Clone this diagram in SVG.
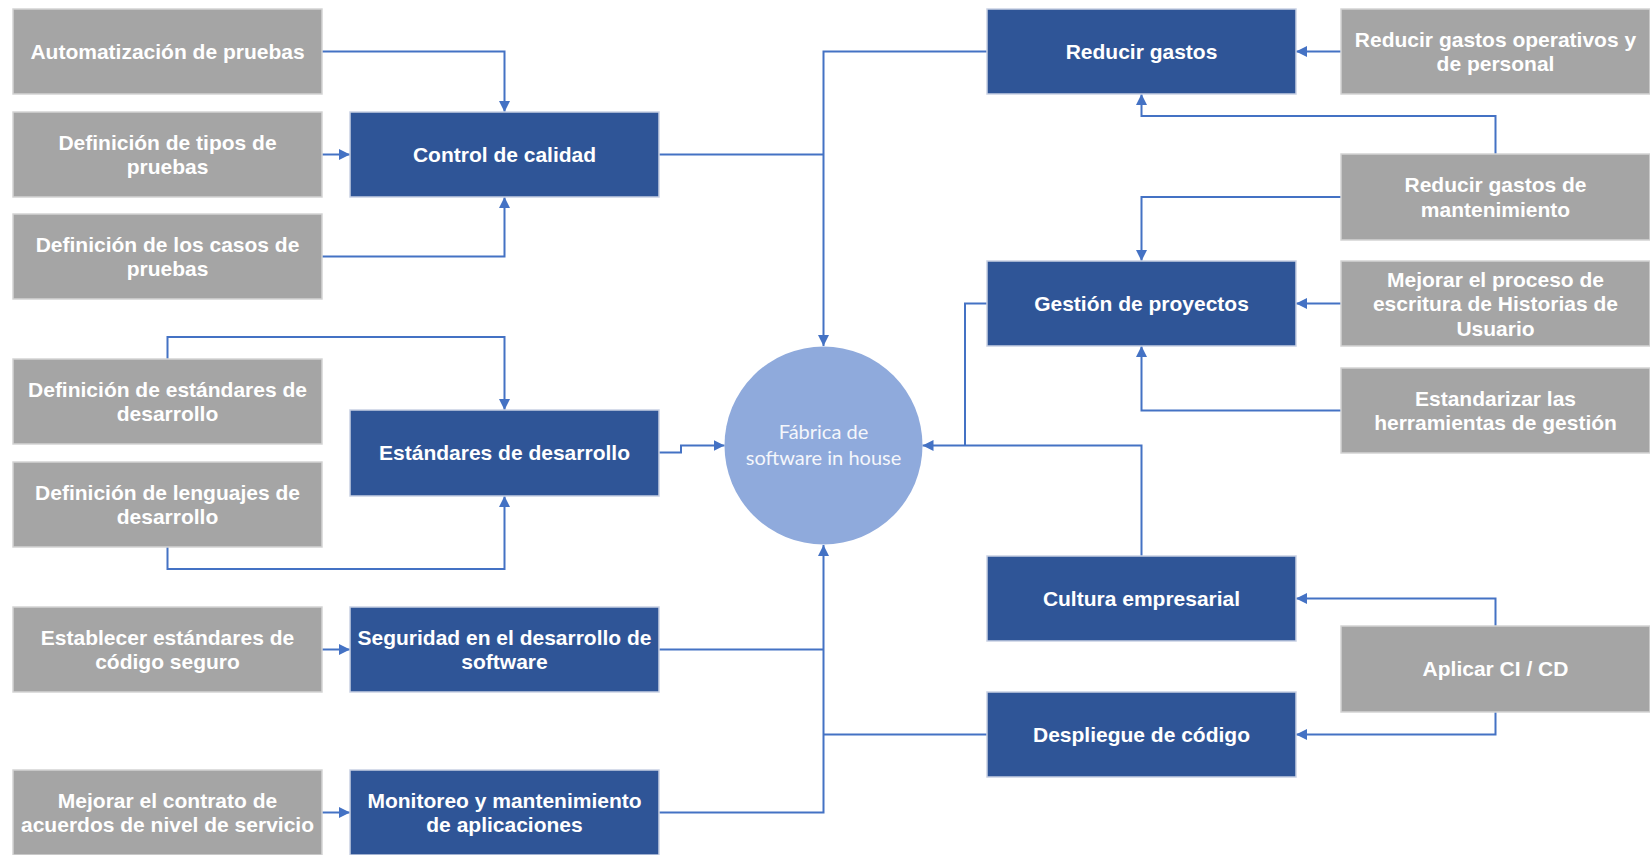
<svg xmlns="http://www.w3.org/2000/svg" width="1650" height="855" viewBox="0 0 1650 855">
  <style>
    .gray { fill: #A5A5A5; stroke: #D4D4D4; stroke-width: 1.5; }
    .dark { fill: #2F5597; stroke: #C9D1E3; stroke-width: 1.5; }
    .hub { fill: #8FAADC; }
    .lbl { font-family: "Liberation Sans", Arial, sans-serif; font-weight: bold; font-size: 21px; fill: #FFFFFF; text-anchor: middle; }
    .hubtxt { font-family: Lato, "Liberation Sans", sans-serif; font-size: 20px; fill: #F4F6FB; text-anchor: middle; }
    .conn { fill: none; stroke: #4472C4; stroke-width: 2; }
  </style>
  <defs>
    <marker id="arrow" viewBox="0 0 11 11" refX="11" refY="5.5" markerWidth="11" markerHeight="11" markerUnits="userSpaceOnUse" orient="auto">
      <path d="M0,0 L11,5.5 L0,11 Z" fill="#4472C4"/>
    </marker>
  </defs>

  <rect width="1650" height="855" fill="#FFFFFF"/>

  <!-- connectors -->
  <g id="connectors">
    <path class="conn" d="M322,51.5 H504.5 V112" marker-end="url(#arrow)"/>
    <path class="conn" d="M322,154.5 H350" marker-end="url(#arrow)"/>
    <path class="conn" d="M322,256.5 H504.5 V197" marker-end="url(#arrow)"/>
    <path class="conn" d="M659,154.5 H823.5"/>
    <path class="conn" d="M987,51.5 H823.5 V346" marker-end="url(#arrow)"/>
    <path class="conn" d="M167.5,359 V337 H504.5 V410" marker-end="url(#arrow)"/>
    <path class="conn" d="M167.5,547 V569 H504.5 V496" marker-end="url(#arrow)"/>
    <path class="conn" d="M659,452.5 H681 V445.5 H724.5" marker-end="url(#arrow)"/>
    <path class="conn" d="M322,649.5 H350" marker-end="url(#arrow)"/>
    <path class="conn" d="M659,649.5 H823.5"/>
    <path class="conn" d="M322,812.5 H350" marker-end="url(#arrow)"/>
    <path class="conn" d="M659,812.5 H823.5 V545" marker-end="url(#arrow)"/>
    <path class="conn" d="M987,734.5 H823.5"/>
    <path class="conn" d="M1341,51.5 H1296" marker-end="url(#arrow)"/>
    <path class="conn" d="M1495.5,154 V116 H1141.5 V94" marker-end="url(#arrow)"/>
    <path class="conn" d="M1341,197 H1141.5 V261" marker-end="url(#arrow)"/>
    <path class="conn" d="M1341,303.5 H1296" marker-end="url(#arrow)"/>
    <path class="conn" d="M1341,410.5 H1141.5 V346" marker-end="url(#arrow)"/>
    <path class="conn" d="M987,303.5 H965 V445.5"/>
    <path class="conn" d="M1141.5,556 V445.5 H922.5" marker-end="url(#arrow)"/>
    <path class="conn" d="M1495.5,626 V598.5 H1296" marker-end="url(#arrow)"/>
    <path class="conn" d="M1495.5,712 V734.5 H1296" marker-end="url(#arrow)"/>
  </g>

  <!-- left column: inputs -->
  <g id="automatizacion">
    <rect class="gray" x="13" y="9" width="309" height="85"/>
    <text class="lbl" x="167.5" y="58.5">Automatización de pruebas</text>
  </g>
  <g id="tipos-pruebas">
    <rect class="gray" x="13" y="112" width="309" height="85"/>
    <text class="lbl" x="167.5" y="149.5">Definición de tipos de</text>
    <text class="lbl" x="167.5" y="174">pruebas</text>
  </g>
  <g id="casos-pruebas">
    <rect class="gray" x="13" y="214" width="309" height="85"/>
    <text class="lbl" x="167.5" y="251.5">Definición de los casos de</text>
    <text class="lbl" x="167.5" y="276">pruebas</text>
  </g>
  <g id="def-estandares">
    <rect class="gray" x="13" y="359" width="309" height="85"/>
    <text class="lbl" x="167.5" y="396.5">Definición de estándares de</text>
    <text class="lbl" x="167.5" y="421">desarrollo</text>
  </g>
  <g id="def-lenguajes">
    <rect class="gray" x="13" y="462" width="309" height="85"/>
    <text class="lbl" x="167.5" y="499.5">Definición de lenguajes de</text>
    <text class="lbl" x="167.5" y="524">desarrollo</text>
  </g>
  <g id="codigo-seguro">
    <rect class="gray" x="13" y="607" width="309" height="85"/>
    <text class="lbl" x="167.5" y="644.5">Establecer estándares de</text>
    <text class="lbl" x="167.5" y="669">código seguro</text>
  </g>
  <g id="contrato-sla">
    <rect class="gray" x="13" y="770" width="309" height="85"/>
    <text class="lbl" x="167.5" y="807.5">Mejorar el contrato de</text>
    <text class="lbl" x="167.5" y="832">acuerdos de nivel de servicio</text>
  </g>

  <!-- left column: areas -->
  <g id="control-calidad">
    <rect class="dark" x="350" y="112" width="309" height="85"/>
    <text class="lbl" x="504.5" y="161.5">Control de calidad</text>
  </g>
  <g id="estandares-desarrollo">
    <rect class="dark" x="350" y="410" width="309" height="86"/>
    <text class="lbl" x="504.5" y="460">Estándares de desarrollo</text>
  </g>
  <g id="seguridad">
    <rect class="dark" x="350" y="607" width="309" height="85"/>
    <text class="lbl" x="504.5" y="644.5">Seguridad en el desarrollo de</text>
    <text class="lbl" x="504.5" y="669">software</text>
  </g>
  <g id="monitoreo">
    <rect class="dark" x="350" y="770" width="309" height="85"/>
    <text class="lbl" x="504.5" y="807.5">Monitoreo y mantenimiento</text>
    <text class="lbl" x="504.5" y="832">de aplicaciones</text>
  </g>

  <!-- hub -->
  <g id="fabrica">
    <circle class="hub" cx="823.5" cy="445.5" r="99"/>
    <text class="hubtxt" x="823.5" y="439">Fábrica de</text>
    <text class="hubtxt" x="823.5" y="465">software in house</text>
  </g>

  <!-- right column: areas -->
  <g id="reducir-gastos">
    <rect class="dark" x="987" y="9" width="309" height="85"/>
    <text class="lbl" x="1141.5" y="58.5">Reducir gastos</text>
  </g>
  <g id="gestion-proyectos">
    <rect class="dark" x="987" y="261" width="309" height="85"/>
    <text class="lbl" x="1141.5" y="310.5">Gestión de proyectos</text>
  </g>
  <g id="cultura">
    <rect class="dark" x="987" y="556" width="309" height="85"/>
    <text class="lbl" x="1141.5" y="605.5">Cultura empresarial</text>
  </g>
  <g id="despliegue">
    <rect class="dark" x="987" y="692" width="309" height="85"/>
    <text class="lbl" x="1141.5" y="741.5">Despliegue de código</text>
  </g>

  <!-- right column: inputs -->
  <g id="gastos-operativos">
    <rect class="gray" x="1341" y="9" width="309" height="85"/>
    <text class="lbl" x="1495.5" y="46.5">Reducir gastos operativos y</text>
    <text class="lbl" x="1495.5" y="71">de personal</text>
  </g>
  <g id="gastos-mantenimiento">
    <rect class="gray" x="1341" y="154" width="309" height="86"/>
    <text class="lbl" x="1495.5" y="192">Reducir gastos de</text>
    <text class="lbl" x="1495.5" y="216.5">mantenimiento</text>
  </g>
  <g id="historias-usuario">
    <rect class="gray" x="1341" y="261" width="309" height="85"/>
    <text class="lbl" x="1495.5" y="286.5">Mejorar el proceso de</text>
    <text class="lbl" x="1495.5" y="311">escritura de Historias de</text>
    <text class="lbl" x="1495.5" y="335.5">Usuario</text>
  </g>
  <g id="herramientas-gestion">
    <rect class="gray" x="1341" y="368" width="309" height="85"/>
    <text class="lbl" x="1495.5" y="405.5">Estandarizar las</text>
    <text class="lbl" x="1495.5" y="430">herramientas de gestión</text>
  </g>
  <g id="ci-cd">
    <rect class="gray" x="1341" y="626" width="309" height="86"/>
    <text class="lbl" x="1495.5" y="676">Aplicar CI / CD</text>
  </g>
</svg>
